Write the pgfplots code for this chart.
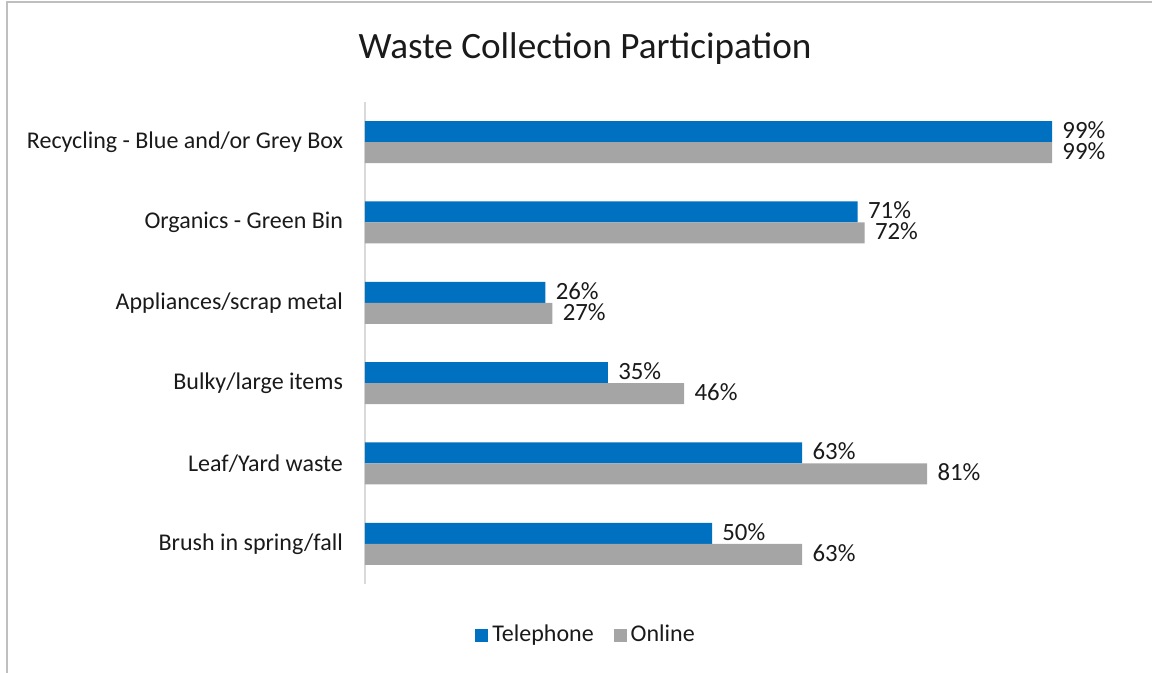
\documentclass[border=0pt]{standalone}
\usepackage{pgfplots}
\pgfplotsset{compat=1.18}
\usepackage{fontspec}
\setmainfont{Carlito}
\definecolor{tel}{HTML}{0070C0}
\definecolor{onl}{HTML}{A5A5A5}
\definecolor{framec}{HTML}{BFBFBF}
\definecolor{axc}{HTML}{D9D9D9}
\definecolor{txt}{HTML}{1A1A1A}

\begin{document}
\begin{tikzpicture}[x=1pt,y=1pt]
\path[use as bounding box] (0,0) rectangle (576,336.5);
\draw[framec, line width=0.9pt] (3.5,0) -- (3.5,335.3) -- (576,335.3);
\node[txt, font=\fontsize{18.6}{22}\selectfont] at (292.5,312) {Waste Collection Participation};
\begin{axis}[
    at={(182.5pt,44.5pt)}, anchor=south west,
    scale only axis, width=347pt, height=241pt,
    xbar, bar width=10.5pt,
    xmin=0, xmax=100, ymin=-0.5, ymax=5.5,
    axis x line=none,
    axis y line*=left,
    y axis line style={axc, line width=0.8pt, -},
    ytick={0,1,2,3,4,5},
    yticklabels={Brush in spring/fall, Leaf/Yard waste, Bulky/large items,
                 Appliances/scrap metal, Organics - Green Bin,
                 Recycling - Blue and/or Grey Box},
    major tick length=0pt,
    yticklabel style={txt, font=\fontsize{12}{14}\selectfont, xshift=-7.5pt},
    /pgf/number format/assume math mode=true,
    nodes near coords={\pgfmathprintnumber{\pgfplotspointmeta}\%},
    nodes near coords style={txt, font=\fontsize{12.4}{14}\selectfont,
                             anchor=west, inner sep=0.5pt, xshift=4.5pt,
                             text height=7.6pt, text depth=0.9pt},
    legend style={at={(0.32,-0.106)}, anchor=center, draw=none,
                  legend columns=2, font=\fontsize{12}{14}\selectfont, text=txt,
                  /tikz/every even column/.append style={column sep=8pt}},
    legend image code/.code={\fill[#1] (0pt,-3.25pt) rectangle (6.5pt,3.25pt);},
  ]
  % Telephone
  \addplot[fill=tel, draw=none, bar shift=5.25pt] coordinates {
    (50,0) (63,1) (35,2) (26,3) (71,4) (99,5)
  };
  % Online
  \addplot[fill=onl, draw=none, bar shift=-5.25pt] coordinates {
    (63,0) (81,1) (46,2) (27,3) (72,4) (99,5)
  };
  \legend{Telephone, Online}
\end{axis}
\end{tikzpicture}
\end{document}
